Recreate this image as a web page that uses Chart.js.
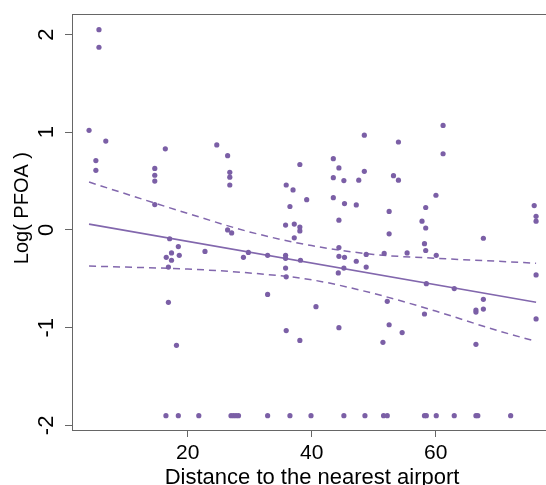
<!DOCTYPE html>
<html>
<head>
<meta charset="utf-8">
<script src="https://cdn.jsdelivr.net/npm/chart.js@4/dist/chart.umd.min.js"></script>
<style>
  html, body { margin: 0; padding: 0; background: #fff; overflow: hidden; }
  canvas { display: block; }
</style>
</head>
<body>
<canvas id="chart" width="546" height="485"></canvas>
<script>
// observed samples: distance (x) and log PFOA (y)
const distance = [
    4.1, 5.7, 5.7, 6.8, 5.2, 5.2, 16.4, 14.7, 14.7, 14.7, 14.7, 24.7, 26.45, 26.8, 26.8, 26.8,
    17.1, 18.5, 26.45, 27.1, 17.4, 18.65, 16.55, 17.4, 16.9, 22.8, 16.9, 18.2, 29.0, 29.8,
    32.9, 35.8, 35.8, 35.8, 35.9, 32.9, 35.9, 38.1, 35.8, 37.2, 37.2, 38.1, 38.1, 38.2,
    48.5, 38.1, 43.5, 44.4, 43.5, 45.2, 47.6, 48.5, 35.9, 37.0, 39.2, 43.5, 45.3, 47.2, 36.5,
    44.4, 44.4, 44.4, 45.3, 45.2, 44.3, 47.2, 48.8, 48.8, 51.7, 40.7, 44.4, 51.5, 52.2, 52.5,
    54.6, 52.5, 52.5,
    61.2, 54.0, 61.2, 53.2, 54.0, 60.05, 58.4, 57.8, 58.4, 58.2, 75.9, 76.2, 76.2, 67.7,
    55.4, 58.4, 60.1, 76.2, 76.2, 58.5, 63.0, 67.7, 66.5, 66.5, 67.7, 58.2, 66.5,
    16.5, 18.5, 21.8, 27.0, 27.4, 27.8, 28.2, 32.9, 36.5, 39.9, 45.2, 48.6, 51.6, 52.2,
    58.2, 58.5, 60.1, 63.0, 66.5, 66.8, 72.1
];
const logPfoa = [
    1.02, 2.05, 1.87, 0.91, 0.71, 0.61, 0.83, 0.63, 0.56, 0.50, 0.26, 0.87, 0.76, 0.59, 0.54, 0.46,
    -0.09, -0.17, 0.0, -0.03, -0.235, -0.26, -0.28, -0.31, -0.38, -0.22, -0.74, -1.18, -0.28, -0.23,
    -0.26, -0.26, -0.29, -0.39, -0.48, -0.66, -1.03, -1.13, 0.05, 0.06, -0.08, 0.03, -0.01, -0.31,
    0.97, 0.67, 0.73, 0.635, 0.535, 0.505, 0.51, 0.60, 0.46, 0.41, 0.31, 0.33, 0.27, 0.256, 0.24,
    0.10, -0.18, -0.27, -0.28, -0.39, -0.44, -0.32, -0.25, -0.38, -0.24, -0.785, -1.0, -1.15, -0.73, -0.97,
    -1.05, 0.19, -0.04,
    1.07, 0.90, 0.78, 0.556, 0.51, 0.355, 0.23, 0.09, 0.02, -0.14, 0.25, 0.14, 0.09, -0.085,
    -0.235, -0.21, -0.26, -0.46, -0.91, -0.55, -0.60, -0.71, -0.82, -0.84, -0.81, -0.86, -1.17,
    -1.9, -1.9, -1.9, -1.9, -1.9, -1.9, -1.9, -1.9, -1.9, -1.9, -1.9, -1.9, -1.9, -1.9,
    -1.9, -1.9, -1.9, -1.9, -1.9, -1.9, -1.9
];

// fitted line and its confidence band
const fitX = [4.1, 76.2];
const fitY = [0.06, -0.74];
const bandX = [4.1, 10, 20, 30, 40, 50, 60, 70, 76.2];
const bandUpper = [0.49, 0.37, 0.17, -0.02, -0.16, -0.25, -0.29, -0.32, -0.34];
const bandLower = [-0.37, -0.38, -0.40, -0.44, -0.51, -0.65, -0.83, -1.03, -1.14];

const xTicks = [20, 40, 60];
const yTicks = [-2, -1, 0, 1, 2];

const purple = '#7b5fa6';
const lineColor = '#8267ad';
const axisColor = '#666666';
const font = 'Liberation Sans, Arial, sans-serif';

const pairs = (xs, ys) => xs.map((x, i) => ({ x: x, y: ys[i] }));

new Chart(document.getElementById('chart').getContext('2d'), {
    type: 'scatter',
    data: {
        datasets: [
            {
                data: pairs(distance, logPfoa),
                pointRadius: 2.6,
                pointBackgroundColor: purple,
                pointBorderWidth: 0,
                showLine: false
            },
            {
                type: 'line',
                data: pairs(fitX, fitY),
                borderColor: lineColor,
                borderWidth: 1.6,
                pointRadius: 0,
                fill: false
            },
            {
                type: 'line',
                data: pairs(bandX, bandUpper),
                borderColor: lineColor,
                borderWidth: 1.5,
                borderDash: [7, 5],
                pointRadius: 0,
                cubicInterpolationMode: 'monotone',
                fill: false
            },
            {
                type: 'line',
                data: pairs(bandX, bandLower),
                borderColor: lineColor,
                borderWidth: 1.5,
                borderDash: [7, 5],
                pointRadius: 0,
                cubicInterpolationMode: 'monotone',
                fill: false
            }
        ]
    },
    options: {
        responsive: false,
        animation: false,
        devicePixelRatio: 1,
        layout: { padding: 0, autoPadding: false },
        plugins: { legend: { display: false }, tooltip: { enabled: false } },
        scales: {
            x: {
                type: 'linear',
                position: 'bottom',
                min: 1.35,
                max: 77.8,
                afterBuildTicks: scale => { scale.ticks = xTicks.map(v => ({ value: v })); },
                afterFit: scale => {
                    scale.height = 55;
                    scale.paddingLeft = 0;
                    scale.paddingRight = 0;
                },
                grid: { drawOnChartArea: false, drawTicks: true, tickLength: 7, color: axisColor },
                border: { display: true, color: axisColor, width: 1 },
                ticks: { color: '#000', font: { family: font, size: 21 }, padding: 4, maxRotation: 0 },
                title: {
                    display: true,
                    text: ' Distance to the nearest airport',
                    color: '#000',
                    font: { family: font, size: 22, lineHeight: 1 },
                    padding: { top: 0, bottom: -4 }
                }
            },
            x2: {
                type: 'linear',
                axis: 'x',
                position: 'top',
                min: 1.35,
                max: 77.8,
                afterFit: scale => {
                    scale.height = 14;
                    scale.paddingLeft = 0;
                    scale.paddingRight = 0;
                },
                grid: { drawOnChartArea: false, drawTicks: false },
                border: { display: true, color: axisColor, width: 1 },
                ticks: { display: false }
            },
            y: {
                type: 'linear',
                min: -2.047,
                max: 2.21,
                afterBuildTicks: scale => { scale.ticks = yTicks.map(v => ({ value: v })); },
                afterFit: scale => {
                    scale.width = 72;
                    scale.paddingTop = 0;
                    scale.paddingBottom = 0;
                },
                grid: { drawOnChartArea: false, drawTicks: true, tickLength: 7, color: axisColor },
                border: { display: true, color: axisColor, width: 1 },
                ticks: {
                    color: '#000',
                    font: { family: font, size: 22 },
                    minRotation: 90,
                    maxRotation: 90,
                    crossAlign: 'center',
                    padding: 8
                },
                title: {
                    display: true,
                    text: '     Log( PFOA )',
                    color: '#000',
                    font: { family: font, size: 20, lineHeight: 1 },
                    padding: { top: 12, bottom: 0 }
                }
            }
        }
    }
});
</script>
</body>
</html>
